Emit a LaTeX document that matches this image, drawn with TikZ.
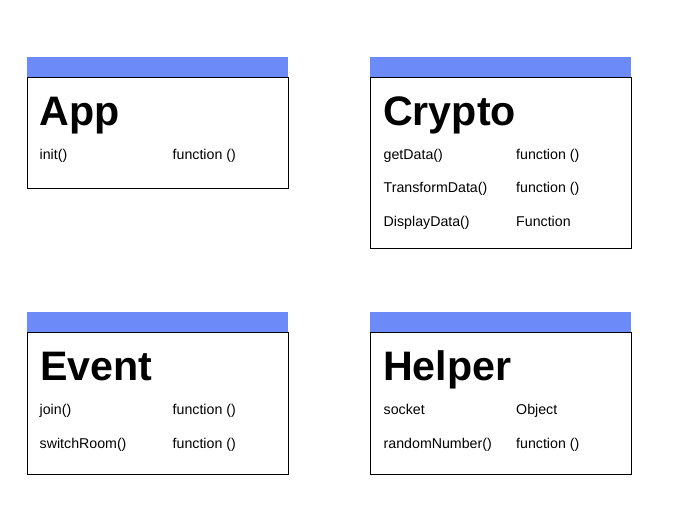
\documentclass[tikz,border=0pt]{standalone}
\usepackage{fontspec}
\setmainfont{Liberation Sans}
\definecolor{hdr}{RGB}{108,139,248}
\begin{document}
\begin{tikzpicture}[x=1pt,y=-1pt,
  header/.style={fill=hdr,draw=none,inner sep=0pt,outer sep=0pt,minimum width=261pt,minimum height=20.5pt,anchor=north west},
  body/.style={draw=black,line width=1pt,fill=white,inner sep=0pt,outer sep=0pt,minimum width=261pt,anchor=north west},
  title/.style={anchor=base west,inner sep=0pt,font=\fontsize{41.2}{44}\selectfont\bfseries},
  member/.style={anchor=base west,inner sep=0pt,font=\fontsize{14.2}{16}\selectfont}]
\useasboundingbox (0,0) rectangle (685,518);
\fill[white] (0,0) rectangle (685,518);
% App
\node[header] (apph) at (27,57) {};
\node[body,minimum height=111pt] (appb) at (27,77.5) {};
\node[title] (appt) at (39.5,126) {App};
\node[member] (app1) at (39.5,160) {init()};
\node[member] (app1t) at (172.5,160) {function ()};
% Crypto
\node[header] (cryh) at (370,57) {};
\node[body,minimum height=171pt] (cryb) at (370,77.5) {};
\node[title] (cryt) at (383,126) {Crypto};
\node[member] (cry1) at (383.5,160) {getData()};
\node[member] (cry1t) at (516,160) {function ()};
\node[member] (cry2) at (383.5,193) {TransformData()};
\node[member] (cry2t) at (516,193) {function ()};
\node[member] (cry3) at (383.5,227) {DisplayData()};
\node[member] (cry3t) at (516,227) {Function};
% Event
\node[header] (evh) at (27,312) {};
\node[body,minimum height=141.5pt] (evb) at (27,332.5) {};
\node[title] (evt) at (40,381) {Event};
\node[member] (ev1) at (39.5,414.5) {join()};
\node[member] (ev1t) at (172.5,414.5) {function ()};
\node[member] (ev2) at (39.5,448) {switchRoom()};
\node[member] (ev2t) at (172.5,448) {function ()};
% Helper
\node[header] (hlh) at (370,312) {};
\node[body,minimum height=141.5pt] (hlb) at (370,332.5) {};
\node[title] (hlt) at (383,381) {Helper};
\node[member] (hl1) at (383.5,414.5) {socket};
\node[member] (hl1t) at (516,414.5) {Object};
\node[member] (hl2) at (383.5,448) {randomNumber()};
\node[member] (hl2t) at (516,448) {function ()};
\end{tikzpicture}
\end{document}
